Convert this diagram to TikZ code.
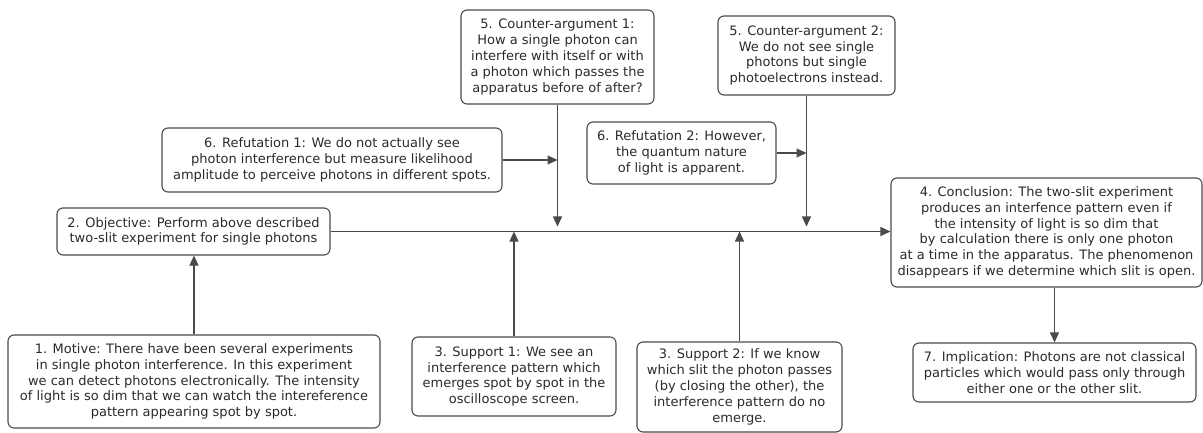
\documentclass[tikz,border=0pt]{standalone}
\usepackage{fontspec}
\setmainfont{DejaVu Sans}
\usetikzlibrary{positioning, calc, arrows.meta}
\definecolor{boxline}{HTML}{4A4A4A}
\definecolor{boxtext}{HTML}{2A2A2A}
\tikzset{argbox/.style={draw=boxline, line width=1.1pt, rounded corners=6, align=center, text=boxtext, inner sep=2pt, font=\fontsize{13}{15.8}\selectfont}}
\tikzset{arr/.style={draw=boxline, line width=1.1pt, -{Triangle[length=10pt, width=9pt]}}}
\tikzset{arr2/.style={arr, shorten >=5pt}}

\begin{document}
\begin{tikzpicture}[x=1pt, y=-1pt]
	\useasboundingbox (0,0) rectangle (1203,433);

	% left column
	\node[argbox, minimum width=372pt, minimum height=93pt] (mot) at (194,381.5)
		{1. Motive: There have been several experiments\\in single photon interference. In this experiment\\we can detect photons electronically. The intensity\\of light is so dim that we can watch the intereference\\pattern appearing spot by spot.};
	\node[argbox, minimum width=273pt, minimum height=47pt] (obj) at (193.5,231.5)
		{2. Objective: Perform above described\\two-slit experiment for single photons};

	% supports below the line
	\node[argbox, minimum width=204pt, minimum height=79pt] (sup1) at (514,376.5)
		{3. Support 1: We see an\\interference pattern which\\emerges spot by spot in the\\oscilloscope screen.};
	\node[argbox, minimum width=205pt, minimum height=90pt] (sup2) at (739.5,387)
		{3. Support 2: If we know\\which slit the photon passes\\(by closing the other), the\\interference pattern do no\\emerge.};

	% counter-arguments and refutations above the line
	\node[argbox, minimum width=193pt, minimum height=94pt] (ca1) at (557.5,57)
		{5. Counter-argument 1:\\How a single photon can\\interfere with itself or with\\a photon which passes the\\apparatus before of after?};
	\node[argbox, minimum width=177pt, minimum height=79pt] (ca2) at (806.5,55.5)
		{5. Counter-argument 2:\\We do not see single\\photons but single\\photoelectrons instead.};
	\node[argbox, minimum width=340pt, minimum height=64pt] (ref1) at (332,160)
		{6. Refutation 1: We do not actually see\\photon interference but measure likelihood\\amplitude to perceive photons in different spots.};
	\node[argbox, minimum width=189pt, minimum height=62pt] (ref2) at (681.5,153)
		{6. Refutation 2: However,\\the quantum nature\\of light is apparent.};

	% right column
	\node[argbox, minimum width=311pt, minimum height=109pt] (con) at (1046.5,232.5)
		{4. Conclusion: The two-slit experiment\\produces an interfence pattern even if\\the intensity of light is so dim that\\by calculation there is only one photon\\at a time in the apparatus. The phenomenon\\disappears if we determine which slit is open.};
	\node[argbox, minimum width=283pt, minimum height=59pt] (imp) at (1054.5,372.5)
		{7. Implication: Photons are not classical\\particles which would pass only through\\either one or the other slit.};

	\draw[arr] (mot.north) -- (mot.north |- obj.south);
	\draw[arr] (obj.east) -- (obj.east -| con.west);
	\draw[arr] (sup1.north) -- (sup1.north |- obj.east);
	\draw[arr] (sup2.north) -- (sup2.north |- obj.east);
	\draw[arr2] (ca1.south) -- (ca1.south |- obj.east);
	\draw[arr2] (ca2.south) -- (ca2.south |- obj.east);
	\draw[arr] (ref1.east) -- (ref1.east -| ca1.south);
	\draw[arr] (ref2.east) -- (ref2.east -| ca2.south);
	\draw[arr] (imp.north |- con.south) -- (imp.north);
\end{tikzpicture}
\end{document}
